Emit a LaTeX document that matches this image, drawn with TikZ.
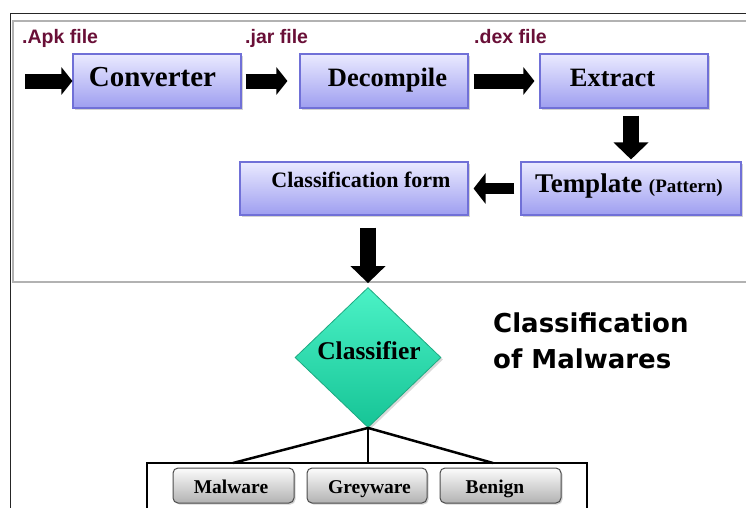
\documentclass[tikz,border=0pt]{standalone}
\usepackage{fontspec}
\setmainfont{Liberation Serif}
\newfontfamily\labelfont{Liberation Sans}
\newfontfamily\titlefont{DejaVu Sans}
\usetikzlibrary{arrows.meta,shadows,shapes.geometric}
\definecolor{boxtop}{RGB}{234,234,255}
\definecolor{boxbot}{RGB}{158,158,240}
\definecolor{boxline}{RGB}{112,112,215}
\definecolor{dmtop}{RGB}{75,242,198}
\definecolor{dmbot}{RGB}{22,196,150}
\definecolor{dmline}{RGB}{30,170,130}
\definecolor{btntop}{RGB}{252,252,252}
\definecolor{btnbot}{RGB}{178,178,178}
\definecolor{labelred}{RGB}{105,15,55}
\tikzset{
  procbox/.style={draw=boxline, line width=1.1pt, top color=boxtop, bottom color=boxbot,
    drop shadow={shadow xshift=2pt, shadow yshift=-2pt, opacity=0.35},
    minimum height=54pt, inner sep=0pt},
  btnbox/.style={draw=black!70, line width=1pt, rounded corners=5pt, top color=btntop, bottom color=btnbot,
    drop shadow={shadow xshift=1.5pt, shadow yshift=-1.5pt, opacity=0.35},
    minimum height=35pt, minimum width=121pt, inner sep=0pt},
  boxtext/.style={inner sep=0pt, anchor=base, font=\bfseries\fontsize{#1}{#1}\selectfont},
  filelabel/.style={inner sep=0pt, anchor=base west, text=labelred, font=\labelfont\bfseries\fontsize{19.5}{20}\selectfont},
  titletext/.style={inner sep=0pt, anchor=base west, font=\titlefont\bfseries\fontsize{26}{30}\selectfont},
  blockh/.style={line width=15pt, -{Triangle[width=27pt,length=11pt]}, black},
  blockt/.style={line width=11pt, -{Triangle[width=30pt,length=12pt]}, black},
  blockv/.style={line width=16pt, -{Triangle[width=34pt,length=17pt]}, black},
  tree/.style={line width=2.5pt, black}
}
\begin{document}
\begin{tikzpicture}[x=1pt,y=-1pt]
\useasboundingbox (0,0) rectangle (746,507);
% frames
\draw[black!85, line width=1pt] (10,520) -- (10,13) -- (760,13);
\draw[black!30, line width=1.5pt] (760,21) -- (13,21) -- (13,282) -- (760,282);
% process boxes
\node[procbox, minimum width=168pt] (conv) at (157,81) {};
\node[procbox, minimum width=168pt] (dec) at (384,81) {};
\node[procbox, minimum width=168pt] (ext) at (624,81) {};
\node[procbox, minimum width=220pt, minimum height=53pt] (tem) at (631,188.5) {};
\node[procbox, minimum width=228pt, minimum height=53pt] (form) at (354,188.5) {};
\node[boxtext=29] (convt) at (152.5,86) {Converter};
\node[boxtext=26.5] (dect) at (387.5,86) {Decompile};
\node[boxtext=26.5] (extt) at (612.5,86) {Extract};
\node[boxtext=27] (temt) at (629,192) {Template {\fontsize{19}{19}\selectfont(Pattern)}};
\node[boxtext=22] (formt) at (361,187) {Classification form};
% file labels
\node[filelabel] (apk) at (22,43) {.Apk file};
\node[filelabel] (jar) at (245,43) {.jar file};
\node[filelabel] (dex) at (474,43) {.dex file};
% arrows
\coordinate (start) at (25,81);
\draw[blockh] (start) -- (conv.west);
\draw[blockh, shorten <=4pt, shorten >=12pt] (conv.east) -- (dec.west);
\draw[blockh, shorten <=5pt, shorten >=5pt] (dec.east) -- (ext.west);
\draw[blockv, shorten <=7pt, shorten >=2pt] (ext.south -| tem.north) -- (tem.north);
\draw[blockt, shorten <=6pt, shorten >=5pt] (tem.west) -- (form.east);
% classifier
\node[diamond, draw=dmline, line width=0.8pt, top color=dmtop, bottom color=dmbot,
  minimum width=146pt, minimum height=140pt, inner sep=0pt,
  drop shadow={shadow xshift=2pt, shadow yshift=-2pt, opacity=0.3}] (cls) at (368,357.5) {};
\node[boxtext=25.5] (clst) at (369,359) {Classifier};
\draw[blockv, shorten <=12pt, shorten >=4pt] (form.south -| cls.north) -- (cls.north);
% title
\node[titletext] (title1) at (493,332) {Classification};
\node[titletext] (title2) at (493,368) {of Malwares};
% result box
\draw[black, line width=1.3pt] (147,520) -- (147,463) -- (587,463) -- (587,520);
\coordinate (rm) at (233,463);
\coordinate (rg) at (368,463);
\coordinate (rb) at (493,463);
\draw[tree] (rm) -- (cls.south) -- (rb);
\draw[tree] (cls.south) -- (rg);
\node[btnbox] (mal) at (233.5,485.5) {};
\node[btnbox, minimum width=120pt] (grey) at (367,485.5) {};
\node[btnbox] (ben) at (500.5,485.5) {};
\node[boxtext=19.5] (malt) at (231,493) {Malware};
\node[boxtext=19.5] (greyt) at (369.5,493) {Greyware};
\node[boxtext=19.5] (bent) at (495,493) {Benign};
\end{tikzpicture}
\end{document}
